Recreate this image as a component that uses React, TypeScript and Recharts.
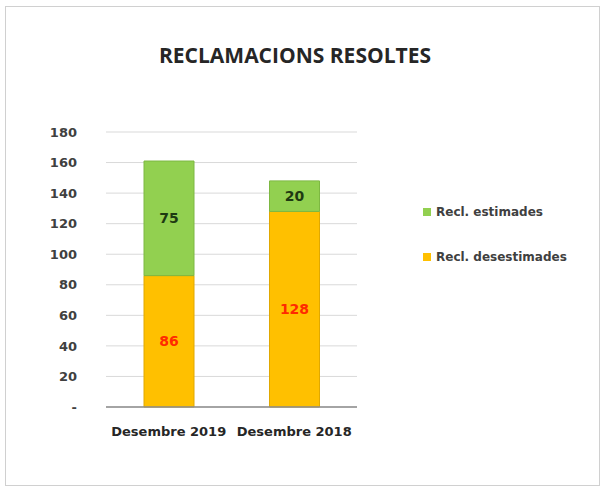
import { BarChart, Bar, XAxis, YAxis, CartesianGrid, LabelList } from 'recharts';

const periods = ['Desembre 2019', 'Desembre 2018'];
const desestimades = [86, 128];
const estimades = [75, 20];
const yTicks = [0, 20, 40, 60, 80, 100, 120, 140, 160, 180];

const data = periods.map((p, i) => ({
  periode: p,
  desestimades: desestimades[i],
  estimades: estimades[i],
}));

const FONT = '"DejaVu Sans", sans-serif';
const TITLE_FONT = '"Open Sans", "Noto Sans", sans-serif';

const legendItems = [
  { label: 'Recl. estimades', color: '#92D050' },
  { label: 'Recl. desestimades', color: '#FFC000' },
];

function LegendBox() {
  return (
    <div
      style={{
        position: 'absolute',
        left: 417,
        top: 182,
        fontFamily: FONT,
        fontWeight: 700,
        fontSize: 12,
        color: '#404040',
      }}
    >
      {legendItems.map((it) => (
        <div key={it.label} style={{ display: 'flex', alignItems: 'center', height: 45 }}>
          <span
            style={{
              width: 8,
              height: 8,
              background: it.color,
              marginRight: 5,
              display: 'inline-block',
            }}
          />
          {it.label}
        </div>
      ))}
    </div>
  );
}

export default function App() {
  return (
    <div
      style={{
        position: 'absolute',
        left: 5,
        top: 6,
        width: 595,
        height: 480,
        border: '1px solid #d0d0d0',
        background: '#fff',
        boxSizing: 'border-box',
        fontFamily: FONT,
      }}
    >
      <div
        style={{
          position: 'absolute',
          top: 34,
          left: 0,
          width: 578,
          textAlign: 'center',
          fontWeight: 700,
          fontSize: 21,
          color: '#262626',
          fontFamily: TITLE_FONT,
        }}
      >
        RECLAMACIONS RESOLTES
      </div>
      <BarChart
        width={593}
        height={478}
        data={data}
        margin={{ top: 125, right: 242, left: 0, bottom: 48 }}
        barSize={50}
      >
        <CartesianGrid vertical={false} stroke="#d9d9d9" />
        <XAxis
          dataKey="periode"
          tickLine={false}
          axisLine={{ stroke: '#8c8c8c', strokeWidth: 1.5 }}
          tickSize={0}
          tickMargin={20}
          tick={{ fill: '#262626', fontSize: 13, fontWeight: 700, fontFamily: FONT }}
          interval={0}
        />
        <YAxis
          width={100}
          domain={[0, 180]}
          ticks={yTicks}
          axisLine={false}
          tickLine={false}
          tickSize={6}
          tickMargin={23}
          tickFormatter={(v) => (v === 0 ? '-' : String(v))}
          tick={{ fill: '#404040', fontSize: 13, fontWeight: 700, fontFamily: FONT }}
        />
        <Bar
          dataKey="desestimades"
          name="Recl. desestimades"
          stackId="a"
          fill="#FFC000"
          stroke="#E0A800"
          strokeWidth={1}
          isAnimationActive={false}
        >
          <LabelList
            dataKey="desestimades"
            position="center"
            fill="#FF2A00"
            fontSize={14}
            fontWeight={700}
            fontFamily={FONT}
          />
        </Bar>
        <Bar
          dataKey="estimades"
          name="Recl. estimades"
          stackId="a"
          fill="#92D050"
          stroke="#7DB842"
          strokeWidth={1}
          isAnimationActive={false}
        >
          <LabelList
            dataKey="estimades"
            position="center"
            fill="#1E3A12"
            fontSize={14}
            fontWeight={700}
            fontFamily={FONT}
          />
        </Bar>
      </BarChart>
      <LegendBox />
    </div>
  );
}
